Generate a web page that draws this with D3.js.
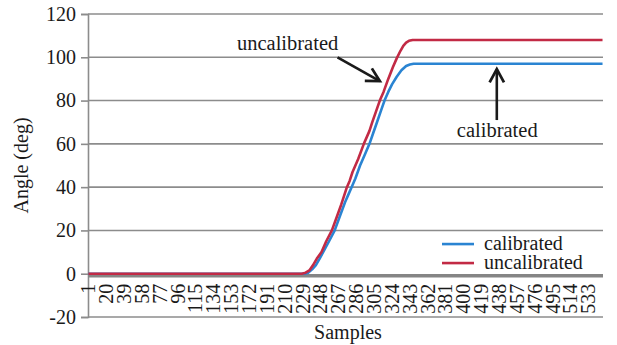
<!DOCTYPE html>
<html>
<head>
<meta charset="utf-8">
<script src="https://cdnjs.cloudflare.com/ajax/libs/d3/7.8.5/d3.min.js"></script>
<style>
  body { margin: 0; background: #fff; }
  svg { display: block; }
  svg text { font-family: "Liberation Serif", "Times New Roman", serif; fill: #1a1a1a; }
</style>
</head>
<body>
<div id="chart"></div>
<script>
// ---- data ----
var sampleCount = 548;
var xTickLabels = [1, 20, 39, 58, 77, 96, 115, 134, 153, 172, 191, 210, 229, 248, 267,
                   286, 305, 324, 343, 362, 381, 400, 419, 438, 457, 476, 495, 514, 533];
var yTicks = [-20, 0, 20, 40, 60, 80, 100, 120];

var calibratedSamples = [1, 231, 235, 239, 243, 247, 252, 257, 263, 268, 274, 278, 281, 285, 290,
                         295, 300, 304, 308, 312, 316, 320, 324, 329, 334, 339, 343, 347, 548];
var calibratedValues  = [0, 0, 0.5, 2, 4, 7, 11, 15, 20, 26, 33, 37, 40, 44, 50,
                         55, 60, 65, 70, 75, 80, 84, 87.5, 91, 94, 96, 96.7, 97, 97];

var uncalibratedSamples = [1, 228, 232, 236, 240, 244, 249, 254, 260, 265, 270, 276, 279, 282, 288,
                           294, 297, 300, 303, 307, 311, 315, 320, 325, 329, 333, 336, 339, 342, 346, 548];
var uncalibratedValues  = [0, 0, 0.5, 1.5, 4, 7, 10, 15, 20, 26, 32, 40, 43, 47, 53,
                           60, 63, 66, 70, 75, 80, 84, 90, 95.5, 99.5, 103, 105.3, 106.8, 107.6, 108, 108];

var seriesNames = ["calibrated", "uncalibrated"];
var seriesColors = ["#2a84d2", "#c22a45"];

var serif = '"Liberation Serif", "Times New Roman", serif';

// ---- layout ----
var width = 617, height = 345;
var margin = { top: 14, right: 14, bottom: 28, left: 88 };
var plotW = width - margin.left - margin.right;
var plotH = height - margin.top - margin.bottom;

var svg = d3.select("#chart").append("svg")
    .attr("width", width)
    .attr("height", height);

var g = svg.append("g")
    .attr("transform", "translate(" + margin.left + "," + margin.top + ")");

// category axis: one band per sample
var x = d3.scaleBand()
    .domain(d3.range(1, sampleCount + 1))
    .range([0, plotW])
    .padding(0);
// continuous twin of the band scale, for line vertices and annotations
var xs = d3.scaleLinear()
    .domain([0.5, sampleCount + 0.5])
    .range([0, plotW]);
var y = d3.scaleLinear()
    .domain([-20, 120])
    .range([plotH, 0]);

// gridlines
g.selectAll(".grid")
    .data(yTicks.filter(function (d) { return d !== 0; }))
    .enter().append("line")
    .attr("class", "grid")
    .attr("x1", 0).attr("x2", plotW)
    .attr("y1", function (d) { return y(d); })
    .attr("y2", function (d) { return y(d); })
    .attr("stroke", "#8c8c8c")
    .attr("stroke-width", 1.6);

// y axis (plain hyphen for negatives, like the original)
var yAxis = g.append("g")
    .attr("font-family", serif)
    .call(d3.axisLeft(y).tickValues(yTicks).tickSize(7).tickPadding(5)
        .tickFormat(function (d) { return String(d); }));
yAxis.attr("font-family", serif);
yAxis.select(".domain").attr("stroke", "#8c8c8c").attr("stroke-width", 1.6);
yAxis.selectAll(".tick line").attr("stroke", "#8c8c8c").attr("stroke-width", 1.6);
yAxis.selectAll(".tick text")
    .style("font-family", serif)
    .style("font-size", "20px")
    .attr("fill", "#1a1a1a");

// x axis (category labels hanging under the zero line)
var xAxis = g.append("g")
    .attr("transform", "translate(0," + y(0) + ")")
    .call(d3.axisBottom(x).tickValues(xTickLabels).tickSize(0));
xAxis.attr("font-family", serif);
xAxis.select(".domain").remove();
xAxis.selectAll(".tick text")
    .style("font-family", serif)
    .style("font-size", "20px")
    .attr("fill", "#1a1a1a")
    .attr("text-anchor", "end")
    .attr("transform", "rotate(-90)")
    .attr("x", -10)
    .attr("y", 0)
    .attr("dy", "0.34em");

// zero line
g.append("line")
    .attr("x1", 0).attr("x2", plotW)
    .attr("y1", y(0) + 2).attr("y2", y(0) + 2)
    .attr("stroke", "#858585")
    .attr("stroke-width", 3.5);

// series
var line = d3.line()
    .x(function (d) { return xs(d[0]); })
    .y(function (d) { return y(d[1]); });

var series = [
    d3.zip(calibratedSamples, calibratedValues),
    d3.zip(uncalibratedSamples, uncalibratedValues)
];

g.selectAll(".series")
    .data(series)
    .enter().append("path")
    .attr("class", "series")
    .attr("d", line)
    .attr("fill", "none")
    .attr("stroke", function (d, i) { return seriesColors[i]; })
    .attr("stroke-width", 2.6)
    .attr("stroke-linejoin", "round");

// axis titles
svg.append("text")
    .attr("transform", "translate(28," + (margin.top + y(50)) + ") rotate(-90)")
    .attr("text-anchor", "middle")
    .style("font-size", "20px")
    .text("Angle (deg)");

svg.append("text")
    .attr("x", 348).attr("y", 339)
    .attr("text-anchor", "middle")
    .style("font-size", "20px")
    .text("Samples");

// legend
var legend = g.selectAll(".legend")
    .data(seriesNames)
    .enter().append("g")
    .attr("class", "legend")
    .attr("transform", function (d, i) { return "translate(354," + (y(13.7) + i * 19) + ")"; });
legend.append("line")
    .attr("x1", 0).attr("x2", 32)
    .attr("stroke", function (d, i) { return seriesColors[i]; })
    .attr("stroke-width", 2.6);
legend.append("text")
    .attr("x", 42).attr("dy", "0.32em")
    .style("font-size", "20px")
    .text(function (d) { return d; });

// annotations with arrows
function arrow(s1, v1, s2, v2) {
    var x1 = xs(s1), y1 = y(v1), x2 = xs(s2), y2 = y(v2);
    var a = Math.atan2(y2 - y1, x2 - x1), L = 15, spread = 0.5;
    g.append("line")
        .attr("x1", x1).attr("y1", y1).attr("x2", x2).attr("y2", y2)
        .attr("stroke", "#1a1a1a").attr("stroke-width", 2.6);
    g.append("path")
        .attr("d", "M" + (x2 - L * Math.cos(a - spread)) + "," + (y2 - L * Math.sin(a - spread)) +
                   "L" + x2 + "," + y2 +
                   "L" + (x2 - L * Math.cos(a + spread)) + "," + (y2 - L * Math.sin(a + spread)))
        .attr("fill", "none")
        .attr("stroke", "#1a1a1a").attr("stroke-width", 2.8)
        .attr("stroke-linejoin", "miter");
}

g.append("text")
    .attr("x", xs(159)).attr("y", y(103.5))
    .style("font-size", "20.5px")
    .text("uncalibrated");
arrow(266, 100, 311, 89);

g.append("text")
    .attr("x", xs(436)).attr("y", y(63))
    .attr("text-anchor", "middle")
    .style("font-size", "20.5px")
    .text("calibrated");
arrow(435.5, 71, 435.5, 94.5);
</script>
</body>
</html>
